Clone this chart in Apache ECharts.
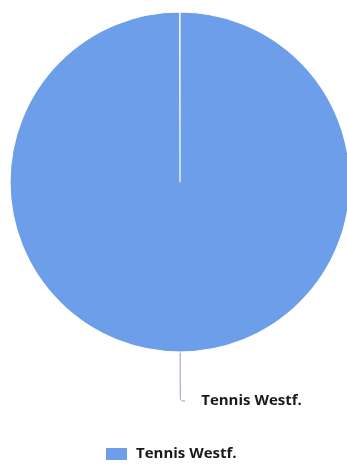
<!DOCTYPE html>
<html><head><meta charset="utf-8">
<script src="https://cdn.jsdelivr.net/npm/echarts@6/dist/echarts.min.js"></script>
<style>html,body{margin:0;padding:0;background:#fff}#c{width:347px;height:466px}</style>
</head><body><div id="c"></div>
<script>
const categories = ['Tennis Westf.'];
const values = [100];
const colors = ['#6d9eea'];

const chart = echarts.init(document.getElementById('c'), null, {renderer: 'canvas'});
chart.setOption({
  animation: false,
  color: colors,
  legend: {
    data: categories,
    top: 441,
    left: 99,
    icon: 'rect',
    itemWidth: 23,
    itemHeight: 14,
    itemGap: 10,
    textStyle: {fontFamily: 'Open Sans', fontWeight: 'bold', fontSize: 15, color: '#1a1a1a', padding: [0, 0, 0, 3]}
  },
  series: [{
    type: 'pie',
    center: [180, 182],
    radius: 170,
    startAngle: 90,
    endAngle: -269.9,
    itemStyle: {borderColor: '#ffffff', borderWidth: 1.2},
    label: {
      show: true,
      position: 'outside',
      fontFamily: 'Open Sans',
      fontWeight: 'bold',
      fontSize: 15,
      color: '#1a1a1a',
      distanceToLabelLine: 16
    },
    labelLine: {show: true, length: 49, length2: 5, smooth: 0.3, lineStyle: {color: '#8a9cb8', width: 1}},
    data: categories.map((n, i) => ({name: n, value: values[i]}))
  }]
});
</script></body></html>
